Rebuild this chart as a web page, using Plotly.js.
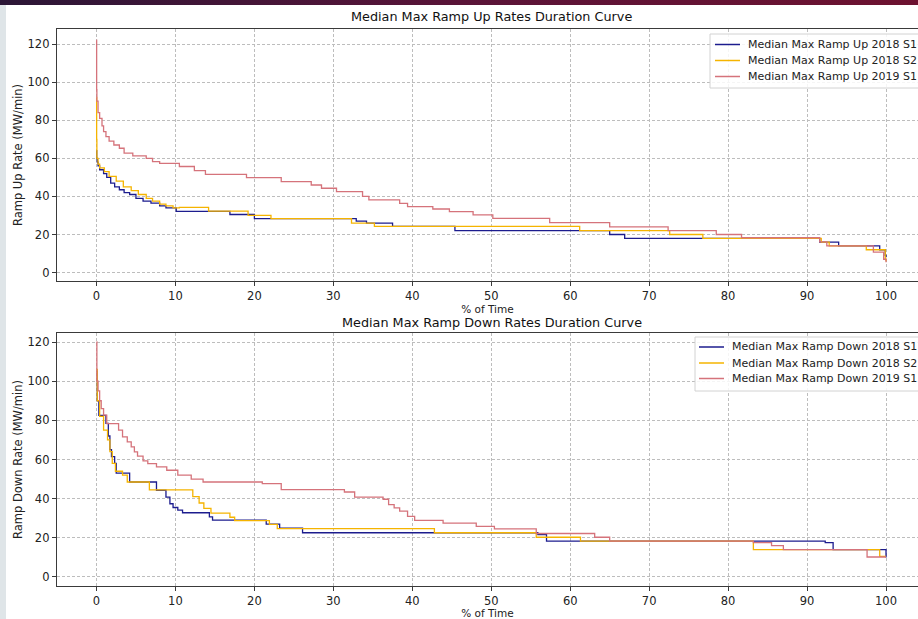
<!DOCTYPE html>
<html>
<head>
<meta charset="utf-8">
<script src="https://cdn.plot.ly/plotly-3.0.1.min.js"></script>
<style>
html,body{margin:0;padding:0;width:918px;height:619px;overflow:hidden;background:#fff;}
#chart{position:absolute;left:0;top:0;width:918px;height:619px;}
#band{position:absolute;left:0;top:0;width:918px;height:5px;background:linear-gradient(to right,#2b1636,#5a1438 50%,#6d1230);z-index:5;}
#strip{position:absolute;left:0;top:5px;width:6px;height:614px;background:#dfe5e8;z-index:5;}
</style>
</head>
<body>
<div id="chart"></div>
<div id="band"></div>
<div id="strip"></div>
<script>
// ---- Ramp Up duration curves (x = % of time, y = MW/min) ----
var upBlueX = [0, 0.03, 0.1, 0.2, 0.4, 0.9, 1.3, 1.8, 2.3, 2.9, 3.5, 4.2, 5.0, 5.9, 6.9, 8.0, 8.8, 10.1, 16.9, 20.0, 32.9, 34.2, 37.5, 45.4, 65.0, 66.9, 91.6, 94.0, 99.2, 99.9, 100];
var upBlueY = [64, 60, 58, 56, 54, 52, 50, 47, 45, 43.5, 42, 41, 39, 37.5, 36.5, 35, 34, 32.2, 30.5, 28.3, 27, 26, 24.3, 22, 20, 18, 16, 14, 12, 9, 8];

var upYellowX = [0, 0.02, 0.05, 0.2, 0.4, 1.0, 1.6, 2.5, 3.4, 4.4, 5.3, 6.3, 7.1, 8.0, 8.8, 9.7, 10.5, 14.2, 19.2, 22.1, 32.3, 35.2, 61.2, 72.6, 76.8, 91.8, 92.8, 97.5, 99.9, 100];
var upYellowY = [92, 70, 60, 57, 55, 53, 50.5, 48, 45, 43, 41, 39, 37.5, 36, 35, 34, 34.3, 32.3, 30, 28.3, 26, 24.3, 22, 20, 18, 16, 14, 12, 7, 6];

var upRedX = [0, 0.02, 0.05, 0.2, 0.4, 0.7, 0.9, 1.2, 1.6, 2.2, 2.9, 3.5, 4.6, 6.3, 7.1, 8.0, 10.5, 12.4, 13.8, 19.0, 23.4, 27.2, 28.5, 30.4, 33.7, 34.5, 38.4, 39.4, 42.6, 44.7, 47.7, 50.2, 57.4, 65.0, 72.4, 78.5, 81.7, 91.6, 92.5, 98.4, 99.7, 100];
var upRedY = [122, 96, 90, 84, 81, 77, 74, 71.4, 69, 67, 65.3, 62.7, 61.3, 60, 58.3, 57.4, 55.7, 53.5, 51.6, 49.9, 47.8, 46, 44.3, 42.5, 40, 38.2, 36.4, 34.6, 33.4, 32, 30.3, 28.5, 26.2, 24, 22, 20, 18.3, 16.1, 14, 10.8, 7, 5.5];

// ---- Ramp Down duration curves ----
var dnBlueX = [0, 0.1, 0.3, 1.2, 1.5, 1.7, 1.9, 2.3, 2.5, 4.2, 7.6, 8.8, 9.3, 9.7, 10.3, 10.9, 14.3, 14.7, 21.5, 23.2, 26.1, 55.9, 57.0, 92.3, 93.3, 100];
var dnBlueY = [105, 90, 82.5, 78.5, 72, 65, 61.5, 58, 53, 48.5, 44.3, 40.8, 37.4, 35.5, 34.1, 32.8, 30.7, 29, 27, 24.9, 22.6, 21.7, 18.3, 17.5, 14, 10];

var dnYellowX = [0, 0.1, 0.4, 0.9, 1.4, 1.7, 2.0, 2.4, 3.3, 3.9, 6.7, 12.2, 13.0, 13.6, 14.5, 16.9, 17.5, 21.9, 22.9, 42.8, 55.7, 61.3, 83.2, 99.2, 100];
var dnYellowY = [106, 90, 82, 75, 70, 64, 58, 54, 52, 48.5, 44.5, 41, 37.8, 35, 32.6, 30.5, 28.8, 26.9, 24.7, 22.6, 20.3, 18.3, 14, 10.5, 10.5];

var dnRedX = [0, 0.05, 0.2, 0.4, 0.6, 0.9, 1.3, 2.8, 3.3, 3.9, 4.4, 4.8, 5.2, 5.9, 6.5, 7.6, 8.9, 10.3, 12.0, 13.5, 21.0, 23.4, 31.4, 32.7, 36.3, 37.0, 37.7, 38.4, 39.4, 40.3, 43.9, 48.1, 50.4, 55.7, 63.1, 65.0, 83.2, 85.5, 87.0, 97.6, 100];
var dnRedY = [120, 100, 95, 90, 86, 82.7, 78.3, 75, 71.6, 69, 66.5, 63.9, 61.7, 59.3, 57.9, 56.2, 54.5, 52, 50, 48.5, 47.7, 44.6, 43.4, 40.8, 39.7, 37, 35.3, 33.6, 31, 28.9, 27.5, 25.8, 24.6, 22.2, 20.3, 18.3, 17.5, 16, 14, 10.2, 10.2];

var upNames = ["Median Max Ramp Up 2018 S1", "Median Max Ramp Up 2018 S2", "Median Max Ramp Up 2019 S1"];
var dnNames = ["Median Max Ramp Down 2018 S1", "Median Max Ramp Down 2018 S2", "Median Max Ramp Down 2019 S1"];
var xTicks = [0, 10, 20, 30, 40, 50, 60, 70, 80, 90, 100];
var yTicks = [0, 20, 40, 60, 80, 100, 120];

var colors = ["#1c1c8e", "#f5b400", "#d5737b"];
var FONT = "DejaVu Sans, sans-serif";

function tr(x, y, name, c, xa, ya) {
  return {type: "scatter", mode: "lines", x: x, y: y, name: name,
    line: {color: c, width: 1.3, shape: "hv"}, xaxis: xa, yaxis: ya, showlegend: false};
}
var data = [
  tr(upBlueX, upBlueY, upNames[0], colors[0], "x", "y"),
  tr(upYellowX, upYellowY, upNames[1], colors[1], "x", "y"),
  tr(upRedX, upRedY, upNames[2], colors[2], "x", "y"),
  tr(dnBlueX, dnBlueY, dnNames[0], colors[0], "x2", "y2"),
  tr(dnYellowX, dnYellowY, dnNames[1], colors[1], "x2", "y2"),
  tr(dnRedX, dnRedY, dnNames[2], colors[2], "x2", "y2")
];

function xax(anchor, standoff) {
  return {domain: [0, 1], anchor: anchor, range: [-5, 104.05], tickvals: xTicks,
    showline: true, mirror: true, linecolor: "#3a3a3a", linewidth: 1.2,
    ticks: "outside", ticklen: 4, tickcolor: "#3a3a3a",
    showgrid: true, gridcolor: "#bdbdbd", griddash: "3px,2px", gridwidth: 1, zeroline: false,
    tickfont: {family: FONT, size: 11.5, color: "#222"},
    title: {text: "% of Time", font: {family: FONT, size: 10.5, color: "#222"}, standoff: standoff}};
}
function yax(anchor, dom, rng, title) {
  return {domain: dom, anchor: anchor, range: rng, tickvals: yTicks,
    showline: true, mirror: false, linecolor: "#3a3a3a", linewidth: 1.2,
    ticks: "outside", ticklen: 4, tickcolor: "#3a3a3a",
    showgrid: true, gridcolor: "#bdbdbd", griddash: "3px,2px", gridwidth: 1, zeroline: false,
    tickfont: {family: FONT, size: 11.5, color: "#222"},
    title: {text: title, font: {family: FONT, size: 11.5, color: "#222"}, standoff: 2}};
}

// layout helpers: pixel -> paper coordinates (plot area 57..918 x 29..586)
function px(p) { return (p - 57) / 861; }
function py(p) { return (586 - p) / 557; }

var shapes = [], annotations = [];
function legendBlock(names, left, top, lineX0, lineX1, textX, rows) {
  shapes.push({type: "rect", xref: "paper", yref: "paper", x0: px(left), x1: px(940),
    y0: py(top + 54), y1: py(top), line: {color: "#d2d2d2", width: 1}, fillcolor: "rgba(255,255,255,0.85)", layer: "above"});
  for (var i = 0; i < names.length; i++) {
    shapes.push({type: "line", xref: "paper", yref: "paper", x0: px(lineX0), x1: px(lineX1),
      y0: py(rows[i]), y1: py(rows[i]), line: {color: colors[i], width: 1.5}, layer: "above"});
    annotations.push({text: names[i], xref: "paper", yref: "paper", x: px(textX), y: py(rows[i]),
      xanchor: "left", yanchor: "middle", showarrow: false,
      font: {family: FONT, size: 11, color: "#222"}});
  }
}
legendBlock(upNames, 710, 34, 715, 740, 746, [44.5, 60.5, 76.5]);
legendBlock(dnNames, 695, 337, 699, 724, 730, [347, 363, 378.5]);

annotations.push({text: "Median Max Ramp Up Rates Duration Curve", xref: "paper", yref: "paper",
  x: px(492), y: py(17), yanchor: "middle", showarrow: false,
  font: {family: FONT, size: 12.8, color: "#111"}});
annotations.push({text: "Median Max Ramp Down Rates Duration Curve", xref: "paper", yref: "paper",
  x: px(492), y: py(322), yanchor: "middle", showarrow: false,
  font: {family: FONT, size: 12.8, color: "#111"}});

var layout = {
  width: 918, height: 619,
  margin: {l: 57, r: 0, t: 29, b: 33, autoexpand: false},
  paper_bgcolor: "#fff", plot_bgcolor: "#fff",
  showlegend: false,
  xaxis: xax("y", 2),
  yaxis: yax("x", [0.5476, 1], [-4.4, 127.9], "Ramp Up Rate (MW/min)"),
  xaxis2: xax("y2", 4),
  yaxis2: yax("x2", [0, 0.4542], [-4.6, 124.6], "Ramp Down Rate (MW/min)"),
  shapes: shapes,
  annotations: annotations
};

Plotly.newPlot("chart", data, layout, {displayModeBar: false, staticPlot: true});
</script>
</body>
</html>
